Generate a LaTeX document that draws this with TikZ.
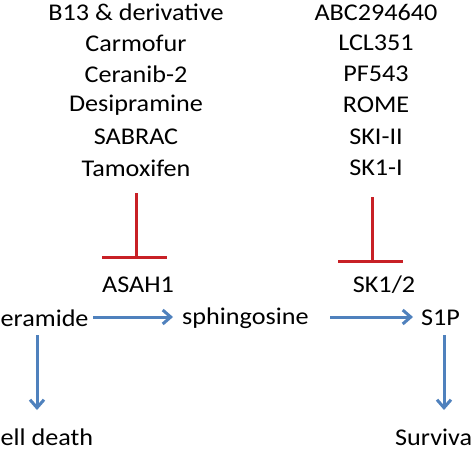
\documentclass[tikz,border=0pt]{standalone}
\usepackage{fontspec}
\setmainfont{Carlito}[FakeStretch=1.09]
\usetikzlibrary{arrows.meta}
\definecolor{inhred}{RGB}{200,32,38}
\definecolor{flowblue}{RGB}{79,129,189}
\tikzset{
  lbl/.style={inner sep=0pt, font=\fontsize{24}{28}\selectfont, text=black},
  inhib/.style={draw=inhred, line width=3pt},
  flow/.style={draw=flowblue, line width=3pt, -{Straight Barb[length=8pt,width=14pt,line width=3pt]}}
}
\begin{document}
\begin{tikzpicture}[x=1pt,y=-1pt]
\useasboundingbox (0,0) rectangle (474,474);
\fill[white] (0,0) rectangle (474,474);
% left inhibitors
\node[lbl] (b13) at (136,12) {B13 \& derivative};
\node[lbl] (carm) at (136,43) {Carmofur};
\node[lbl] (cer2) at (136,74) {Ceranib-2};
\node[lbl] (desi) at (136,105) {Desipramine};
\node[lbl] (sabr) at (136,137) {SABRAC};
\node[lbl] (tamo) at (136,168) {Tamoxifen};
% right inhibitors
\node[lbl] (abc) at (376,12) {ABC294640};
\node[lbl] (lcl) at (376,43) {LCL351};
\node[lbl] (pf) at (376,74) {PF543};
\node[lbl] (rome) at (376,105) {ROME};
\node[lbl] (ski) at (376,137) {SKI-II};
\node[lbl] (sk1i) at (376,168) {SK1-I};
% enzymes
\node[lbl] (asah) at (138,285) {ASAH1};
\node[lbl] (sk) at (384,285) {SK1/2};
% pathway
\node[lbl, anchor=west] (cer) at (0.5,318) {eramide};
\node[lbl, anchor=west] (sph) at (182,318) {sphingosine};
\node[lbl, anchor=west] (s1p) at (421,318) {S1P};
\node[lbl, anchor=west] (death) at (0.5,437) {ell death};
\node[lbl, anchor=west] (surv) at (395,437) {Surviva};
% inhibition bars
\coordinate (lt) at (136,193);
\coordinate (lb) at (136,257);
\coordinate (rt) at (372,197);
\coordinate (rb) at (372,261);
\draw[inhib] (lt) -- (lb);
\draw[inhib] (102,257) -- (167,257);
\draw[inhib] (rt) -- (rb);
\draw[inhib] (338,261) -- (403,261);
% flow arrows
\draw[flow] (93,317) -- (173,317);
\draw[flow] (330,317) -- (413,317);
\draw[flow] (37,335) -- (37,410);
\draw[flow] (444,335) -- (444,410);
\end{tikzpicture}
\end{document}
